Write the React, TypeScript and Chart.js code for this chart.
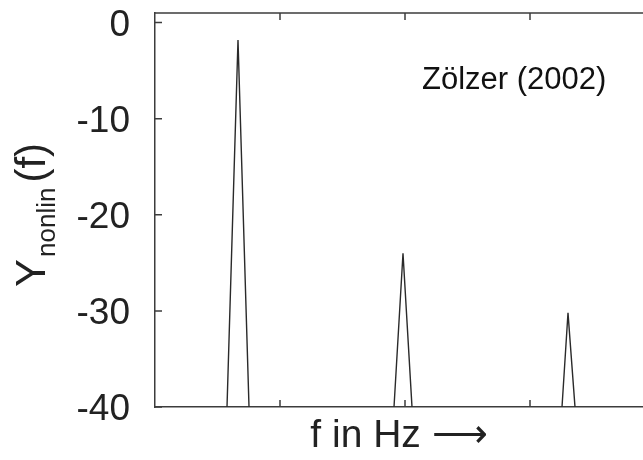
import { useEffect, useRef } from 'react';
import { Chart, registerables } from 'chart.js';

Chart.register(...registerables);

// Spectral lines (frequency in Hz, level in dB)
const peakFreqHz = [664, 1984, 3304];
const peakLevelDb = [-1.8, -24.0, -30.2];
const baseLeftHz = [576, 1912, 3256];
const baseRightHz = [752, 2056, 3360];
const floorDb = -40;

// Axes
const yMin = -40;
const yMax = 1;
const yStep = 10;
const xMinHz = 0;
const xMaxHz = 3904;
const xTickHz = [1000, 2000, 3000];

// Texts
const xTitle = 'f in Hz \u27F6';
const yTitleMain = 'Y';
const yTitleSub = 'nonlin';
const yTitleTail = '(f)';
const noteText = 'Zölzer (2002)';
const noteFreqHz = 2136;
const noteLevelDb = -6.9;

const FONT = '"Liberation Sans", Arial, Helvetica, sans-serif';
const AXIS_COLOR = '#3c3c3c';

const framePlugin = {
  id: 'framePlugin',
  afterDraw(chart: any) {
    const { ctx, chartArea, scales } = chart;
    const { left, right, top, bottom } = chartArea;
    const xs = scales.x;
    const ys = scales.y;
    ctx.save();
    ctx.strokeStyle = AXIS_COLOR;
    ctx.lineWidth = 1.5;
    ctx.beginPath();
    ctx.moveTo(left, top);
    ctx.lineTo(right, top);
    for (const t of xTickHz) {
      const px = xs.getPixelForValue(t);
      ctx.moveTo(px, bottom);
      ctx.lineTo(px, bottom - 7);
      ctx.moveTo(px, top);
      ctx.lineTo(px, top + 7);
    }
    for (const tk of ys.ticks) {
      const py = ys.getPixelForValue(tk.value);
      ctx.moveTo(left, py);
      ctx.lineTo(left + 7, py);
    }
    ctx.stroke();

    // y title with subscript
    ctx.fillStyle = '#222';
    ctx.textBaseline = 'alphabetic';
    ctx.textAlign = 'left';
    const mainFont = `42px ${FONT}`;
    const subFont = `26px ${FONT}`;
    ctx.translate(45, 287);
    ctx.rotate(-Math.PI / 2);
    let x0 = 0;
    ctx.font = mainFont;
    ctx.fillText(yTitleMain, x0, 0);
    x0 += ctx.measureText(yTitleMain).width + 2;
    ctx.font = subFont;
    ctx.fillText(yTitleSub, x0, 10);
    x0 += ctx.measureText(yTitleSub).width + 5;
    ctx.font = mainFont;
    ctx.fillText(yTitleTail, x0, 0);
    ctx.restore();

    // note
    ctx.save();
    ctx.fillStyle = '#111';
    ctx.font = `31px ${FONT}`;
    ctx.textAlign = 'left';
    ctx.textBaseline = 'alphabetic';
    ctx.fillText(noteText, xs.getPixelForValue(noteFreqHz), ys.getPixelForValue(noteLevelDb));
    ctx.restore();
  },
};

function buildPoints() {
  const pts: any[] = [];
  for (let i = 0; i < peakFreqHz.length; i++) {
    pts.push({ x: baseLeftHz[i], y: floorDb });
    pts.push({ x: peakFreqHz[i], y: peakLevelDb[i] });
    pts.push({ x: baseRightHz[i], y: floorDb });
    pts.push({ x: baseRightHz[i], y: null });
  }
  return pts;
}

export default function App() {
  const ref = useRef<HTMLCanvasElement>(null);
  useEffect(() => {
    if (!ref.current) return;
    const chart = new Chart(ref.current, {
      type: 'line',
      data: {
        datasets: [
          {
            data: buildPoints(),
            borderColor: '#2a2a2a',
            borderWidth: 1.4,
            pointRadius: 0,
            spanGaps: false,
            tension: 0,
          },
        ],
      },
      options: {
        animation: false,
        responsive: false,
        events: [],
        layout: { autoPadding: false, padding: { top: 13, left: 0, right: 0, bottom: 0 } },
        plugins: { legend: { display: false }, tooltip: { enabled: false } },
        scales: {
          x: {
            type: 'linear',
            min: xMinHz,
            max: xMaxHz,
            grid: { display: false },
            border: { display: true, color: AXIS_COLOR, width: 1.5 },
            ticks: { display: false, stepSize: 1000 },
            title: {
              display: true,
              text: xTitle,
              color: '#222',
              font: { family: FONT, size: 39 },
              padding: { top: 0, bottom: 0 },
            },
            afterFit(scale: any) {
              scale.height = 53;
              scale.paddingLeft = 0;
              scale.paddingRight = 0;
            },
          },
          y: {
            type: 'linear',
            min: yMin,
            max: yMax,
            grid: { display: false, drawTicks: false },
            border: { display: true, color: AXIS_COLOR, width: 1.5 },
            ticks: {
              stepSize: yStep,
              includeBounds: false,
              padding: 25,
              labelOffset: 3,
              color: '#222',
              font: { family: FONT, size: 37 },
            },
            afterFit(scale: any) {
              scale.width = 155;
              scale.paddingTop = 0;
              scale.paddingBottom = 0;
            },
          },
        },
      },
      plugins: [framePlugin],
    });
    return () => chart.destroy();
  }, []);
  return (
    <div style={{ position: 'fixed', left: 0, top: 0, width: 643, height: 460, background: '#fff' }}>
      <canvas ref={ref} width={643} height={460} style={{ display: 'block' }} />
    </div>
  );
}
